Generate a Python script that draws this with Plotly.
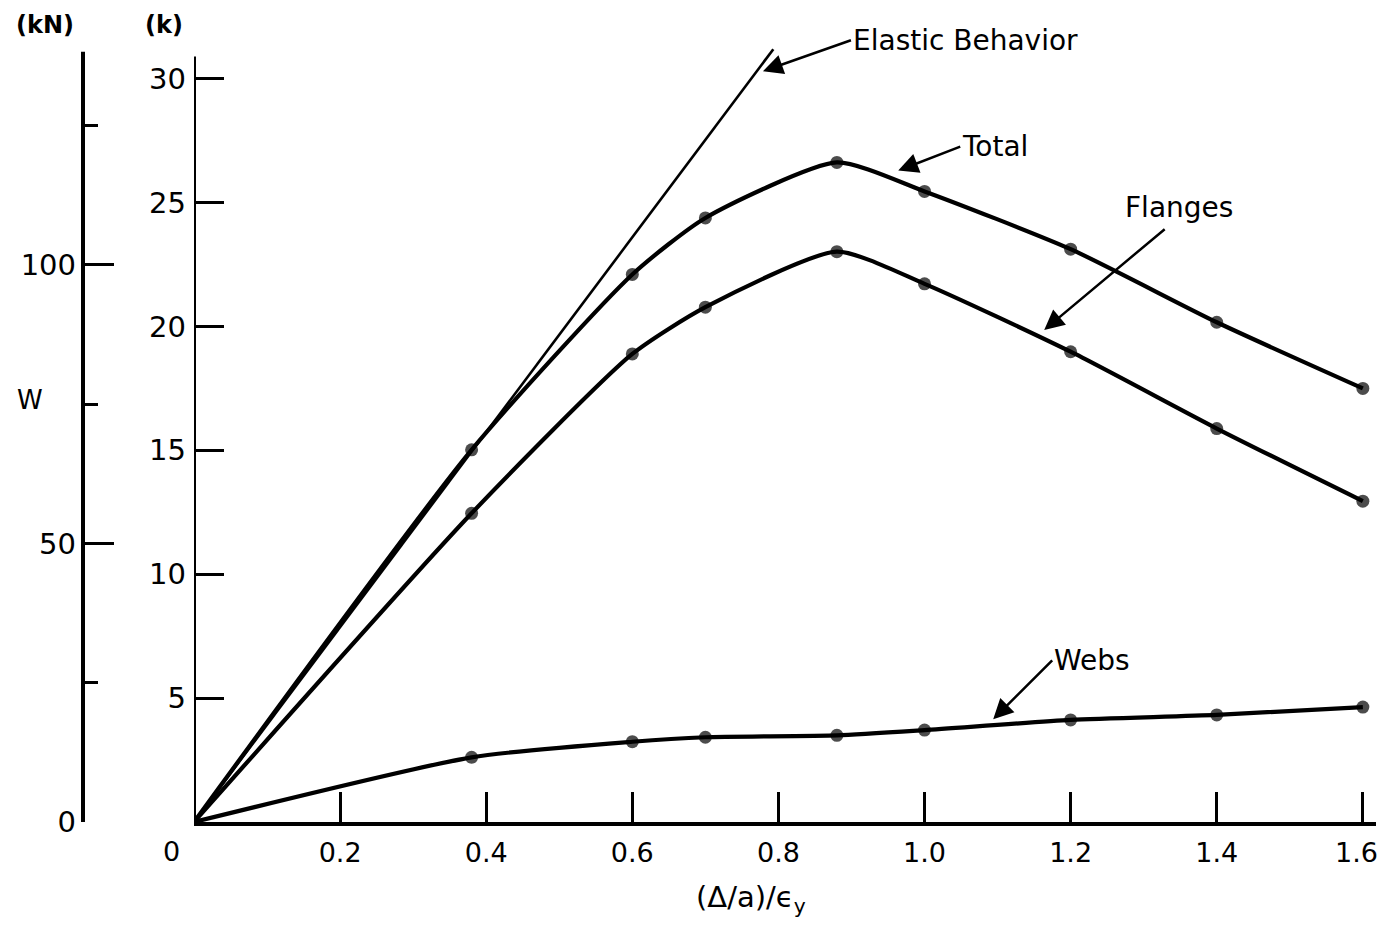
import plotly.graph_objects as go

# ---------------- data ----------------
x_vals = [0, 0.38, 0.60, 0.70, 0.88, 1.00, 1.20, 1.40, 1.60]
total_k = [0, 15.02, 22.10, 24.38, 26.62, 25.45, 23.12, 20.17, 17.50]
flanges_k = [0, 12.46, 18.89, 20.78, 23.02, 21.72, 18.98, 15.88, 12.95]
webs_k = [0, 2.61, 3.24, 3.42, 3.50, 3.71, 4.12, 4.32, 4.64]
elastic_x = [0, 0.793]
elastic_k = [0, 31.19]

x_tick_vals = [0.2, 0.4, 0.6, 0.8, 1.0, 1.2, 1.4, 1.6]
x_tick_text = ["0.2", "0.4", "0.6", "0.8", "1.0", "1.2", "1.4", "1.6"]
k_tick_vals = [5, 10, 15, 20, 25, 30]
kn_tick_vals = [0, 50, 100]
kn_minor_vals = [25, 75, 125]
KIP_TO_KN = 4.448

# ---------------- layout geometry ----------------
# page body has an 8px margin on every side: keep the figure inside the window
OFF = 8
W, H = 1388 - 2 * OFF, 926 - 2 * OFF
ML, MR, MT, MB = 32, 4, 36, 96
PW = W - ML - MR
PH = H - MT - MB
X_LEFT_PX = 194   # reference-window pixel of x = 0
Y_TOP = 31.4
X_MAX = 1.618


def px(xr):
    """reference window x pixel -> paper fraction"""
    return (xr - OFF - ML) / PW


def py(yr):
    """reference window y pixel -> paper fraction"""
    return (H - MB - (yr - OFF)) / PH


FONT = "DejaVu Sans"
fig = go.Figure()

marker_sizes = [0] + [13] * (len(x_vals) - 1)

fig.add_trace(go.Scatter(x=elastic_x, y=elastic_k, mode="lines",
                         line=dict(color="black", width=2.6),
                         cliponaxis=False, hoverinfo="skip"))
for ys in (total_k, flanges_k, webs_k):
    fig.add_trace(go.Scatter(x=x_vals, y=ys, mode="lines+markers",
                             line=dict(color="black", width=4.2, shape="spline", smoothing=0.6),
                             marker=dict(color="black", size=marker_sizes, line=dict(width=0)),
                             cliponaxis=False, hoverinfo="skip"))

# invisible trace to anchor the kN axis
fig.add_trace(go.Scatter(x=x_vals, y=[v * KIP_TO_KN for v in total_k], yaxis="y2",
                         mode="lines", line=dict(width=0), opacity=0, hoverinfo="skip"))

fig.update_layout(
    width=W, height=H,
    margin=dict(l=ML, r=MR, t=MT, b=MB),
    plot_bgcolor="white", paper_bgcolor="white",
    showlegend=False,
    font=dict(family=FONT, size=27, color="black"),
    xaxis=dict(domain=[px(X_LEFT_PX), 1], range=[0, X_MAX],
               showline=True, linewidth=4, linecolor="black",
               ticks="inside", ticklen=30, tickwidth=3, tickcolor="black",
               # last label (at the right edge) is drawn as an annotation below
               tickvals=x_tick_vals[:-1], ticktext=x_tick_text[:-1],
               minor=dict(tickvals=x_tick_vals[-1:], ticks="inside", ticklen=30,
                          tickwidth=3, tickcolor="black"),
               tickfont=dict(size=27), ticklabelstandoff=4,
               showgrid=False, zeroline=False),
    yaxis=dict(range=[0, Y_TOP], showline=False,
               ticks="inside", ticklen=30, tickwidth=3, tickcolor="black",
               tickvals=k_tick_vals, tickfont=dict(size=29),
               ticklabelstandoff=7,
               showgrid=False, zeroline=False),
    yaxis2=dict(overlaying="y", anchor="free", position=px(83), side="left",
                range=[0, Y_TOP * KIP_TO_KN], showline=False,
                ticks="inside", ticklen=30, tickwidth=3, tickcolor="black",
                tickvals=kn_tick_vals, tickfont=dict(size=29),
                ticklabelstandoff=7,
                minor=dict(tickvals=kn_minor_vals, ticks="inside", ticklen=14,
                           tickwidth=3, tickcolor="black"),
                showgrid=False, zeroline=False),
)

# last x tick label, nudged so it stays inside the figure
fig.add_annotation(text=x_tick_text[-1], x=x_tick_vals[-1], y=py(852),
                   xref="x", yref="paper", xanchor="center", yanchor="middle",
                   xshift=-6, showarrow=False,
                   font=dict(family=FONT, size=27, color="black"))

# axis lines
fig.add_shape(type="line", xref="x", yref="y", x0=0, x1=0, y0=0, y1=30.9,
              line=dict(color="black", width=4))
fig.add_shape(type="line", xref="paper", yref="y", x0=px(83), x1=px(83), y0=0, y1=31.09,
              line=dict(color="black", width=4))

# plain text labels
texts = [
    ("<b>(kN)</b>", px(45), py(25), "center", 24),
    ("<b>(k)</b>", px(164), py(25), "center", 24),
    ("W", px(30), py(400), "center", 26),
    ("0", px(171), py(851), "center", 27),
    ("(Δ/a)/ϵ<sub>y</sub>", px(751), py(899), "center", 29),
    ("Flanges", px(1123), py(208), "left", 28),
]
for t, x, y, anc, sz in texts:
    fig.add_annotation(text=t, x=x, y=y, xref="paper", yref="paper",
                       xanchor=anc, yanchor="middle", showarrow=False,
                       font=dict(family=FONT, size=sz, color="black"))

# labels carrying their own arrow: head in data coords, tail offset in pixels
arrow_labels = [
    ("Elastic Behavior", 0.7788, 30.30, 88, -31),
    ("Total", 0.964, 26.29, 62, -24),
    ("Webs", 1.094, 4.146, 59, -59),
]
for t, hx, hy, ax, ay in arrow_labels:
    fig.add_annotation(text=t, x=hx, y=hy, xref="x", yref="y",
                       ax=ax, ay=ay, xanchor="left", yanchor="middle",
                       showarrow=True,
                       arrowhead=2, arrowsize=1.6, arrowwidth=2.5, arrowcolor="black",
                       font=dict(family=FONT, size=28, color="black"))

# bare arrow pointing at the flanges curve
fig.add_annotation(text="", x=1.1638, y=19.86, xref="x", yref="y",
                   ax=122, ay=-102, showarrow=True,
                   arrowhead=2, arrowsize=1.6, arrowwidth=2.5, arrowcolor="black")

fig.write_html("out.html")
